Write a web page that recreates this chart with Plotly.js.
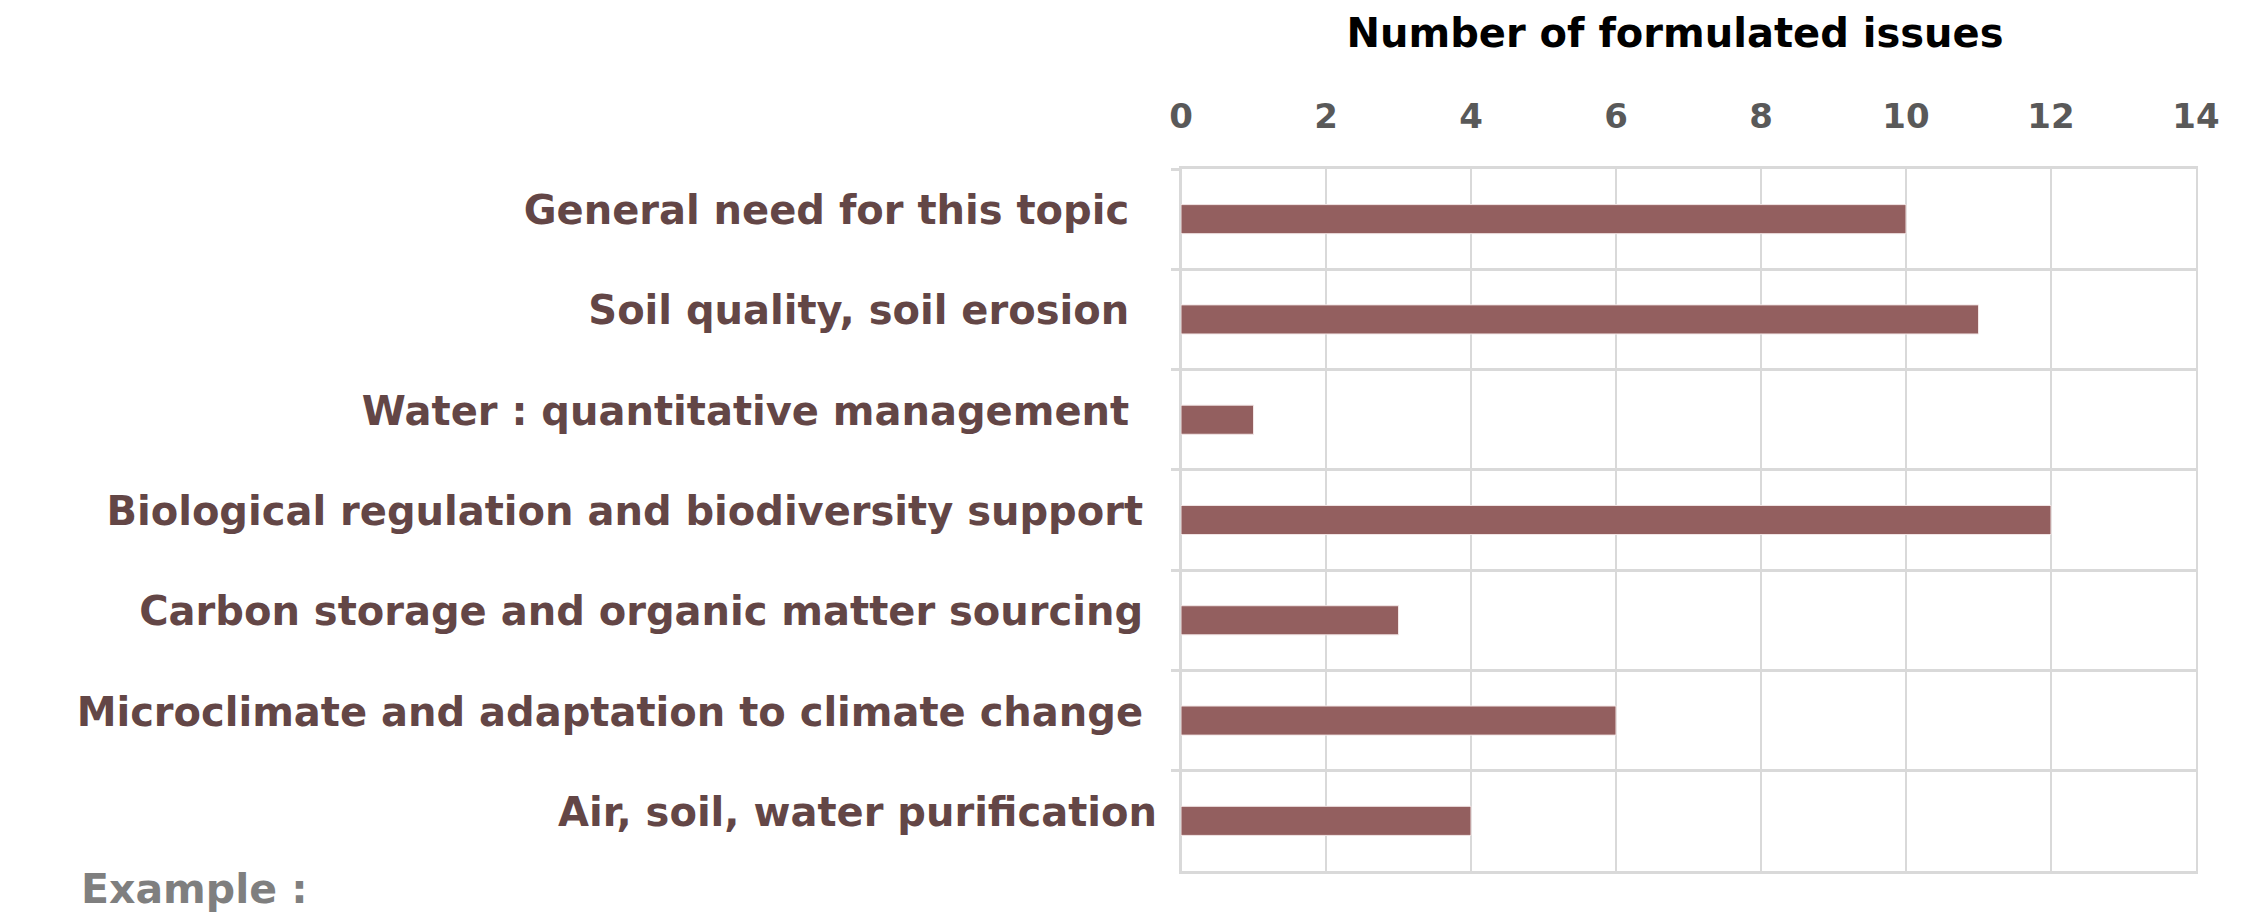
<!DOCTYPE html>
<html>
<head>
<meta charset="utf-8">
<script src="https://cdn.plot.ly/plotly-3.0.1.min.js"></script>
<style>html,body{margin:0;padding:0;background:#fff;}#chart{width:2251px;height:912px;}</style>
</head>
<body>
<div id="chart"></div>
<script>
var categories = [
  "General need for this topic\u00a0\u00a0",
  "Soil quality, soil erosion\u00a0\u00a0",
  "Water : quantitative management\u00a0\u00a0",
  "Biological regulation and biodiversity support\u00a0",
  "Carbon storage and organic matter sourcing\u00a0",
  "Microclimate and adaptation to climate change\u00a0",
  "Air, soil, water purification"
];
var values = [10, 11, 1, 12, 3, 6, 4];
var tickValues = [0, 2, 4, 6, 8, 10, 12, 14];
var titleText = "Number of formulated issues";
var noteText = "Example :";

var FONT = "DejaVu Sans, sans-serif";

var trace = {
  type: "bar",
  orientation: "h",
  y: categories,
  x: values,
  marker: {color: "#935F5F", line: {color: "#f2e6e6", width: 1}},
  hoverinfo: "x+y"
};

var layout = {
  width: 2251,
  height: 912,
  paper_bgcolor: "#ffffff",
  plot_bgcolor: "#ffffff",
  margin: {l: 1181, r: 55, t: 169, b: 41, pad: 0},
  showlegend: false,
  bargap: 0.71,
  title: {
    text: "<b>" + titleText + "</b>",
    font: {family: FONT, size: 40, color: "#000000"},
    x: 1675 / 2251, xanchor: "center", xref: "container",
    y: 1 - 33 / 912, yanchor: "middle", yref: "container"
  },
  xaxis: {
    side: "top",
    range: [0, 14],
    tickvals: tickValues,
    ticktext: tickValues.map(function (v) { return "<b>" + v + "</b>"; }),
    tickfont: {family: FONT, size: 34, color: "#595959"},
    ticks: "",
    ticklabelstandoff: 24,
    showgrid: true,
    gridcolor: "#d9d9d9",
    gridwidth: 2,
    zeroline: true,
    zerolinecolor: "#d9d9d9",
    zerolinewidth: 2,
    showline: true,
    mirror: true,
    linecolor: "#d9d9d9",
    linewidth: 3,
    fixedrange: true
  },
  yaxis: {
    type: "category",
    autorange: "reversed",
    tickson: "boundaries",
    ticks: "outside",
    ticklen: 8,
    tickcolor: "#d9d9d9",
    tickwidth: 3,
    showgrid: true,
    gridcolor: "#d9d9d9",
    gridwidth: 3,
    ticklabelstandoff: 14,
    ticklabelshift: 9,
    tickfont: {family: FONT, size: 40, color: "#634646", weight: "bold"},
    showline: true,
    mirror: true,
    linecolor: "#d9d9d9",
    linewidth: 2,
    fixedrange: true
  },
  annotations: [{
    text: "<b>" + noteText + "</b>",
    xref: "paper", yref: "paper",
    x: -1102 / 1015, xanchor: "left",
    y: -18 / 702, yanchor: "middle",
    showarrow: false,
    font: {family: FONT, size: 41, color: "#7f7f7f"}
  }]
};

Plotly.newPlot("chart", [trace], layout, {displayModeBar: false, staticPlot: true});
</script>
</body>
</html>
